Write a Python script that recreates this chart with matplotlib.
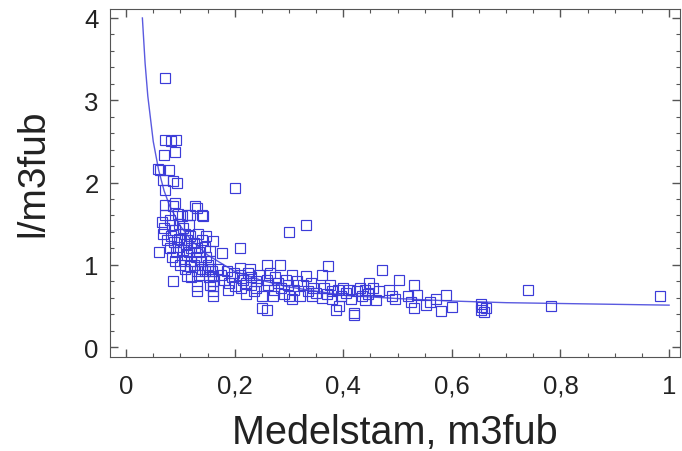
import matplotlib
matplotlib.use("Agg")
import matplotlib.pyplot as plt
from matplotlib.ticker import MultipleLocator, FuncFormatter

# medelstam (m3fub) och l/m3fub
x_pts = [
    0.058, 0.068, 0.072, 0.072, 0.072, 0.066, 0.070, 0.072, 0.070, 0.062, 0.072, 0.060, 0.068, 0.075,
    0.083, 0.092, 0.090, 0.079, 0.086, 0.093, 0.086, 0.090, 0.080, 0.085, 0.090, 0.082, 0.088, 0.080,
    0.092, 0.085, 0.090, 0.086, 0.095, 0.097, 0.098, 0.095, 0.099,
    0.103, 0.105, 0.108, 0.102, 0.110, 0.104, 0.112, 0.106, 0.112, 0.108, 0.117, 0.115, 0.118, 0.113,
    0.120, 0.116, 0.120, 0.118, 0.112,
    0.127, 0.130, 0.139, 0.141, 0.132, 0.125, 0.130, 0.135, 0.128, 0.138, 0.125, 0.130, 0.135, 0.130,
    0.130, 0.140, 0.140, 0.120,
    0.145, 0.148, 0.150, 0.145, 0.152, 0.154, 0.154, 0.154, 0.154, 0.160, 0.160, 0.160, 0.160, 0.160,
    0.160, 0.158, 0.147,
    0.176, 0.170, 0.175, 0.185, 0.180, 0.190, 0.195, 0.200, 0.198, 0.200, 0.188,
    0.209, 0.209, 0.210, 0.215, 0.220, 0.212, 0.225, 0.230, 0.230, 0.235, 0.240, 0.245, 0.240, 0.250,
    0.220, 0.228, 0.251,
    0.259, 0.260, 0.260, 0.262, 0.265, 0.270, 0.272, 0.275, 0.280, 0.283, 0.285, 0.290, 0.295, 0.300,
    0.306, 0.298, 0.300,
    0.310, 0.315, 0.320, 0.325, 0.332, 0.332, 0.335, 0.340, 0.343, 0.345, 0.350, 0.305,
    0.360, 0.371, 0.365, 0.370, 0.375, 0.380, 0.387, 0.390, 0.393, 0.395, 0.360, 0.380,
    0.400, 0.405, 0.410, 0.420, 0.420, 0.415, 0.425, 0.430, 0.435, 0.440, 0.445, 0.448, 0.440,
    0.455, 0.460, 0.465, 0.472, 0.484, 0.490, 0.503, 0.495,
    0.520, 0.530, 0.530, 0.525, 0.535, 0.552, 0.560, 0.580, 0.590, 0.600, 0.570,
    0.653, 0.653, 0.662, 0.655, 0.660,
    0.741, 0.783, 0.983,
]
y_pts = [
    2.17, 2.03, 1.91, 1.73, 1.60, 1.52, 1.45, 2.52, 2.33, 2.15, 3.27, 1.16, 1.38, 1.30,
    2.50, 2.52, 2.37, 2.15, 2.02, 1.99, 1.71, 1.75, 1.55, 1.48, 1.42, 1.35, 1.28, 1.20,
    1.15, 1.10, 1.05, 0.80, 1.62, 1.50, 1.32, 1.22, 1.00,
    1.59, 1.45, 1.38, 1.30, 1.25, 1.18, 1.12, 1.05, 0.86, 0.95, 1.60, 1.48, 1.35, 1.30,
    1.20, 1.15, 1.05, 0.98, 1.60,
    1.71, 1.69, 1.60, 1.59, 1.38, 1.27, 1.20, 1.15, 1.10, 1.05, 1.00, 0.92, 0.88, 0.74,
    0.68, 1.30, 0.95, 0.85,
    1.22, 1.10, 1.00, 0.92, 0.85, 1.17, 1.05, 0.95, 0.75, 0.62, 0.68, 0.74, 0.80, 0.86,
    1.29, 0.92, 1.35,
    1.14, 0.95, 0.88, 0.92, 0.82, 0.78, 0.85, 0.74, 0.90, 1.93, 0.70,
    1.20, 0.96, 0.88, 0.82, 0.78, 0.72, 0.90, 0.85, 0.75, 0.68, 0.80, 0.88, 0.72, 0.62,
    0.65, 0.95, 0.47,
    1.00, 0.45, 0.82, 0.75, 0.90, 0.62, 0.70, 0.85, 0.78, 1.00, 0.72, 0.65, 0.82, 1.40,
    0.88, 0.75, 0.62,
    0.70, 0.80, 0.62, 0.75, 1.49, 0.86, 0.68, 0.78, 0.62, 0.72, 0.66, 0.58,
    0.88, 0.99, 0.72, 0.65, 0.75, 0.68, 0.45, 0.70, 0.50, 0.62, 0.60, 0.58,
    0.72, 0.66, 0.70, 0.41, 0.39, 0.58, 0.68, 0.72, 0.62, 0.70, 0.65, 0.78, 0.57,
    0.72, 0.57, 0.68, 0.94, 0.69, 0.62, 0.81, 0.58,
    0.62, 0.75, 0.47, 0.55, 0.63, 0.51, 0.55, 0.44, 0.63, 0.49, 0.58,
    0.52, 0.45, 0.47, 0.49, 0.43,
    0.69, 0.50, 0.62,
]

# anpassad kurva, avläst
x_fit = [0.03, 0.035, 0.04, 0.05, 0.06, 0.07, 0.08, 0.10, 0.12, 0.15, 0.20, 0.25, 0.30,
         0.40, 0.50, 0.60, 0.70, 0.80, 0.90, 1.00]
y_fit = [4.0, 3.45, 3.05, 2.50, 2.15, 1.90, 1.72, 1.47, 1.30, 1.12, 0.92, 0.81, 0.73,
         0.63, 0.59, 0.56, 0.54, 0.53, 0.52, 0.51]

plt.rcParams['font.family'] = ['Liberation Sans', 'DejaVu Sans']

fig = plt.figure(figsize=(6.82, 4.52), dpi=100)
ax = fig.add_axes([0.161, 0.208, 0.836, 0.77])

ax.plot(x_fit, y_fit, color='#5a5ae0', linewidth=1.0)
ax.plot(x_pts, y_pts, linestyle='none', marker='s', markersize=7.5,
        markerfacecolor='none', markeredgecolor='#3c3cd8', markeredgewidth=0.85)

ax.set_xlim(-0.03, 1.02)
ax.set_ylim(-0.12, 4.11)

ax.xaxis.set_major_locator(MultipleLocator(0.2))
ax.xaxis.set_minor_locator(MultipleLocator(0.05))
ax.yaxis.set_major_locator(MultipleLocator(1))
ax.yaxis.set_minor_locator(MultipleLocator(0.2))

def komma(v, pos):
    s = f"{v:.1f}".rstrip('0').rstrip('.')
    if s == '-0':
        s = '0'
    return s.replace('.', ',')

ax.xaxis.set_major_formatter(FuncFormatter(komma))

ax.tick_params(which='both', direction='in', top=True, right=True, colors='#555555',
               labelcolor='#222222')
ax.tick_params(which='major', length=6, width=1, labelsize=18.5)
ax.tick_params(axis='x', which='major', pad=12)
ax.tick_params(axis='y', which='major', pad=8)
ax.tick_params(which='minor', length=3, width=0.8)
for s in ax.spines.values():
    s.set_color('#555555')

ax.set_xlabel('Medelstam, m3fub', fontsize=28.5, color='#222222', labelpad=11)
ax.set_ylabel('l/m3fub', fontsize=28, color='#222222', labelpad=24)
ax.yaxis.label.set_y(0.53)

fig.savefig('out.png', dpi=100)
